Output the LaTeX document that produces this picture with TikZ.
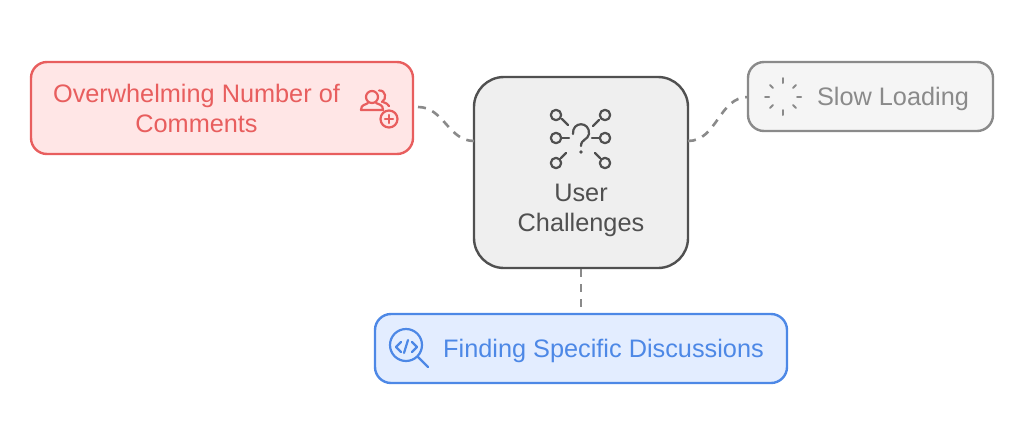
\documentclass[tikz,border=0pt]{standalone}
\usepackage{fontspec}
\setmainfont{Liberation Sans}
\definecolor{redline}{HTML}{E85E5E}
\definecolor{redfill}{HTML}{FFE6E6}
\definecolor{greyline}{HTML}{8A8A8A}
\definecolor{greyfill}{HTML}{F5F5F5}
\definecolor{blueline}{HTML}{4D88E6}
\definecolor{bluefill}{HTML}{E3EDFF}
\definecolor{darkline}{HTML}{505050}
\definecolor{darkfill}{HTML}{EFEFEF}

\begin{document}
\begin{tikzpicture}[x=1pt,y=-1pt]
\tikzset{box/.style={draw,line width=2.4pt,rounded corners=16pt,inner sep=0pt}}
\tikzset{label/.style={inner sep=0pt,align=center,font=\fontsize{25.3}{30}\selectfont}}
\tikzset{link/.style={draw=greyline,line width=2.6pt,dash pattern=on 8pt off 7pt}}
\tikzset{icon/.style={line width=2.2pt,line cap=round,line join=round}}
\useasboundingbox (0,0) rectangle (1024,445);

\node[box,draw=darkline,fill=darkfill,minimum width=214pt,minimum height=191pt,rounded corners=30pt] (user) at (581,172.5) {};
\node[box,draw=redline,fill=redfill,minimum width=382pt,minimum height=92pt] (overwhelm) at (222,108) {};
\node[box,draw=greyline,fill=greyfill,minimum width=245pt,minimum height=69pt] (slow) at (870.5,96.5) {};
\node[box,draw=blueline,fill=bluefill,minimum width=412pt,minimum height=69pt] (finding) at (581,348.5) {};

\node[label,text=darkline] (userlabel) at (581,210) {User\\Challenges};
\node[label,text=redline] (overwhelmlabel) at (196.5,108) {Overwhelming Number of\\Comments};
\node[label,text=greyline] (slowlabel) at (893,99) {Slow Loading};
\node[label,text=blueline] (findinglabel) at (603.5,351) {Finding Specific Discussions};

% free ends of the links
\coordinate (overwhelmend) at (418,107);
\coordinate (userleft) at (474,141);
\coordinate (userright) at (688,141);
\coordinate (slowend) at (748,97);
\coordinate (findingend) at (581,312);

\draw[link] (overwhelmend) to[out=0,in=180] (userleft);
\draw[link] (userright) to[out=0,in=180] (slowend);
\draw[link] (user.south) -- (findingend);

% question mark icon
\begin{scope}[icon,draw=darkline]
	\foreach \cx/\cy in {556/115,605/115,556/138,605/138,556/163,605/163}
		\draw (\cx,\cy) circle (5.2pt);
	\draw (562,119) -- (568,125);
	\draw (599,120) -- (593,126);
	\draw (561,138) -- (569,138);
	\draw (592,138) -- (599,138);
	\draw (561,158) -- (566,153);
	\draw (600,158) -- (595,153);
	\draw (573,134) .. controls (572,121) and (590,121) .. (589,134)
		.. controls (588,140) and (581,139) .. (581,146);
	\fill[darkline] (581,152) circle (1.8pt);
\end{scope}

% people icon
\begin{scope}[icon,draw=redline]
	\draw (372,97) circle (6pt);
	\draw (361,110) .. controls (361,104) and (366,105) .. (368,103);
	\draw (376,103) .. controls (379,105) and (383,104) .. (383,110) -- (361,110);
	\draw (379,90.5) .. controls (386,90) and (387,99) .. (382,102);
	\draw (383,102) .. controls (386,103) and (388,104) .. (389,106);
	\draw (389,119) circle (8.5pt);
	\draw (385,119) -- (393,119);
	\draw (389,115) -- (389,123);
\end{scope}

% spinner icon
\begin{scope}[icon,draw=greyline,line width=2pt]
	\draw (783,78) -- (783,83);
	\draw (783,110) -- (783,115);
	\draw (765,96.5) -- (769,96.5);
	\draw (797,96.5) -- (801,96.5);
	\draw (770,85) -- (773,88);
	\draw (793,88) -- (796,85);
	\draw (770,108) -- (773,105);
	\draw (793,105) -- (796,108);
\end{scope}

% magnifier icon
\begin{scope}[icon,draw=blueline]
	\draw (406,345) circle (16pt);
	\draw (418,357) -- (428,367);
	\draw (401,342) -- (396,347) -- (401,352);
	\draw (412,342) -- (417,347) -- (412,352);
	\draw (408,340) -- (404,353);
\end{scope}
\end{tikzpicture}
\end{document}
